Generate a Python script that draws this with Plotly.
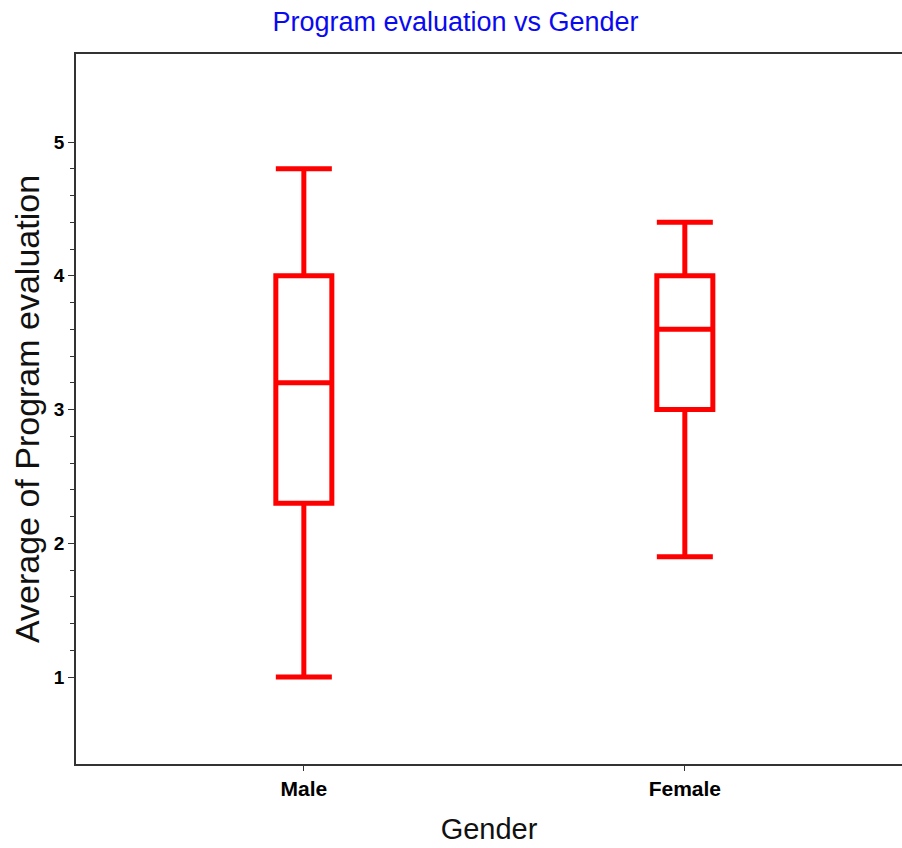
import plotly.graph_objects as go

# Box statistics for average program evaluation by gender
genders = ["Male", "Female"]
lower_whisker = [1.0, 1.9]
q1_values = [2.3, 3.0]
median_values = [3.2, 3.6]
q3_values = [4.0, 4.0]
upper_whisker = [4.8, 4.4]

# Axis ticks
y_major_ticks = [1, 2, 3, 4, 5]
y_minor_ticks = [round(1 + 0.2 * k, 1) for k in range(21) if k % 5 != 0]

RED = "#ff0000"
AXIS = "#333333"

fig = go.Figure()
for i, g in enumerate(genders):
    fig.add_trace(go.Box(
        x=[g],
        q1=[q1_values[i]],
        median=[median_values[i]],
        q3=[q3_values[i]],
        lowerfence=[lower_whisker[i]],
        upperfence=[upper_whisker[i]],
        width=0.147,
        whiskerwidth=1,
        line=dict(color=RED, width=5),
        fillcolor="rgba(255,255,255,0)",
        boxpoints=False,
        hoverinfo="skip",
        showlegend=False,
    ))

tick_font = dict(family="Liberation Sans, Arial", color="#000000", weight="bold")

fig.update_layout(
    width=902,
    height=848,
    margin=dict(l=76, r=0, t=54, b=84),
    paper_bgcolor="white",
    plot_bgcolor="white",
    title=dict(
        text="Program evaluation vs Gender",
        x=0.505, xref="container", xanchor="center",
        y=0.974, yref="container", yanchor="middle",
        font=dict(family="Liberation Sans, Arial", size=27, color="#0a0af0"),
    ),
    xaxis=dict(
        type="category",
        categoryorder="array",
        categoryarray=genders,
        range=[-0.598, 1.570],
        showgrid=False,
        zeroline=False,
        showline=True,
        linecolor=AXIS,
        linewidth=1.5,
        mirror=True,
        ticks="outside",
        ticklen=5,
        tickwidth=1,
        tickcolor=AXIS,
        tickfont=dict(size=21, **tick_font),
        title=dict(text="Gender", standoff=20,
                   font=dict(family="Liberation Sans, Arial", size=29, color="#111111")),
    ),
    yaxis=dict(
        range=[0.35, 5.658],
        tickvals=y_major_ticks,
        showgrid=False,
        zeroline=False,
        showline=True,
        linecolor=AXIS,
        linewidth=1.5,
        mirror=False,
        ticks="outside",
        ticklen=6,
        tickwidth=1,
        tickcolor=AXIS,
        tickfont=dict(size=19, **tick_font),
        minor=dict(tickvals=y_minor_ticks, ticks="outside", ticklen=4, tickwidth=1,
                   tickcolor=AXIS, showgrid=False),
        title=dict(text="Average of Program evaluation", standoff=4,
                   font=dict(family="Liberation Sans, Arial", size=34, color="#111111")),
    ),
)

fig.write_html("out.html")
